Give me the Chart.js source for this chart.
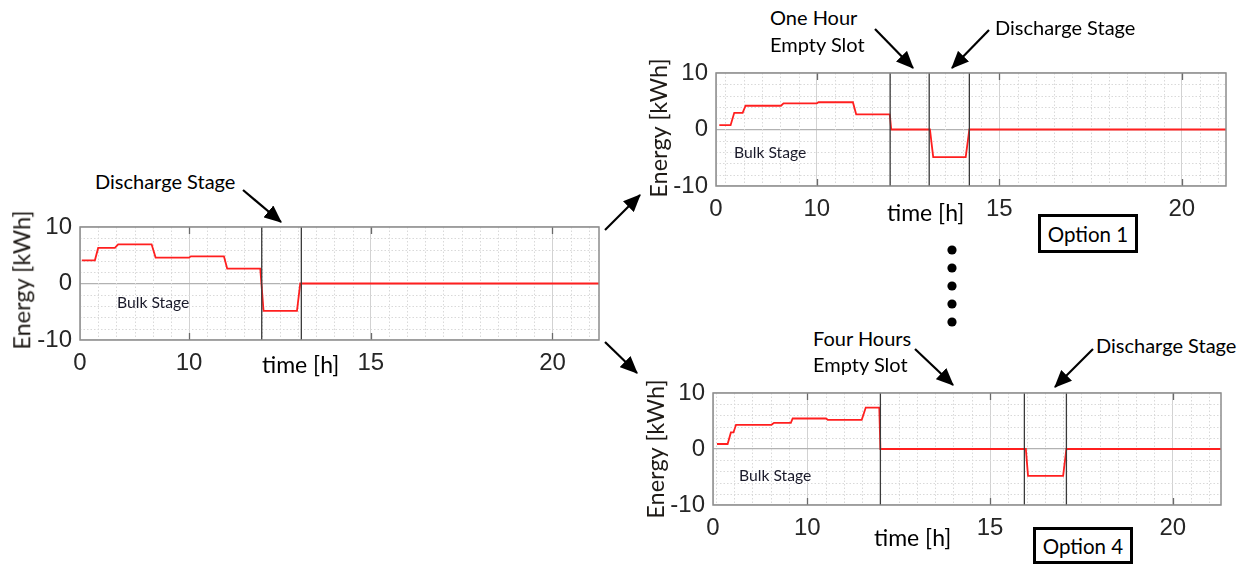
<!DOCTYPE html>
<html><head><meta charset="utf-8">
<script src="https://cdn.jsdelivr.net/npm/chart.js@4.4.1/dist/chart.umd.min.js"></script>
<style>
html,body{margin:0;padding:0;background:#fff;}
body{width:1253px;height:564px;position:relative;overflow:hidden;font-family:Lato,"Open Sans",sans-serif;}
canvas{position:absolute;}
.t{position:absolute;white-space:nowrap;color:#000;line-height:1;transform:translateY(-50%);z-index:5;}
.ylab{position:absolute;white-space:nowrap;font-size:23.5px;color:#1e1a16;line-height:1;transform:translate(-50%,-50%) rotate(-90deg);z-index:5;}
.box{position:absolute;border:3.5px solid #000;box-sizing:border-box;display:flex;align-items:center;justify-content:center;font-size:20.5px;color:#000;z-index:5;background:#fff;}
svg{position:absolute;left:0;top:0;z-index:6;}
</style></head><body>
<canvas id="c1"></canvas>
<canvas id="c2"></canvas>
<canvas id="c3"></canvas>

<div class="t" style="left:95px;top:181px;font-size:20px;">Discharge Stage</div>
<div class="t" style="left:770px;top:17px;font-size:20px;">One Hour</div>
<div class="t" style="left:770px;top:44px;font-size:20px;">Empty Slot</div>
<div class="t" style="left:995px;top:27px;font-size:20px;">Discharge Stage</div>
<div class="t" style="left:813px;top:338px;font-size:20px;">Four Hours</div>
<div class="t" style="left:813px;top:364px;font-size:20px;">Empty Slot</div>
<div class="t" style="left:1096px;top:345px;font-size:20px;">Discharge Stage</div>

<div class="t" style="left:117px;top:303px;font-size:15.7px;color:#1a1a2a;">Bulk Stage</div>
<div class="t" style="left:734px;top:153px;font-size:15.7px;color:#1a1a2a;">Bulk Stage</div>
<div class="t" style="left:739px;top:476px;font-size:15.7px;color:#1a1a2a;">Bulk Stage</div>

<div class="t" style="left:262px;top:364px;font-size:23px;">time [h]</div>
<div class="t" style="left:887px;top:212px;font-size:23px;">time [h]</div>
<div class="t" style="left:874px;top:537px;font-size:23px;">time [h]</div>

<div class="ylab" style="left:22px;top:280px;">Energy [kWh]</div>
<div class="ylab" style="left:659px;top:128px;">Energy [kWh]</div>
<div class="ylab" style="left:656px;top:449px;">Energy [kWh]</div>

<div class="box" style="left:1038px;top:214px;width:100px;height:39px;">Option 1</div>
<div class="box" style="left:1033px;top:527px;width:100px;height:37px;">Option 4</div>

<svg width="1253" height="564" viewBox="0 0 1253 564">
  <defs>
    <marker id="ah" markerWidth="8" markerHeight="7" refX="7.5" refY="3.5" orient="auto" markerUnits="strokeWidth">
      <path d="M0,0 L8,3.5 L0,7 Z" fill="#000"/>
    </marker>
  </defs>
  <g stroke="#000" stroke-width="2.2" marker-end="url(#ah)">
    <line x1="243" y1="190" x2="281" y2="222"/>
    <line x1="605" y1="230" x2="640" y2="195"/>
    <line x1="605" y1="342" x2="637" y2="373"/>
    <line x1="875" y1="29" x2="913" y2="68"/>
    <line x1="989" y1="30" x2="952" y2="68"/>
    <line x1="915" y1="349" x2="953" y2="385"/>
    <line x1="1093" y1="349" x2="1055" y2="387"/>
  </g>
  <g fill="#000">
    <circle cx="952" cy="250" r="4.6"/>
    <circle cx="952" cy="268" r="4.6"/>
    <circle cx="952" cy="286" r="4.6"/>
    <circle cx="952" cy="304" r="4.6"/>
    <circle cx="952" cy="322" r="4.6"/>
  </g>
</svg>

<script>
// ---------- data ----------
const xTickLabels = ['0', '10', '15', '20'];
const yTickValues = [-10, 0, 10];

// Chart 1 (base schedule)
const xTicks1 = [7, 10, 15, 20];
const xRange1 = [7, 21.28];
const time1   = [7.05, 7.41, 7.5, 7.96, 8.05, 8.97, 9.08, 10.0, 10.05, 10.96, 11.05, 11.96, 12.05, 12.97, 13.06, 21.28];
const energy1 = [4.1, 4.1, 6.3, 6.3, 6.93, 6.93, 4.58, 4.58, 4.8, 4.8, 2.64, 2.64, -4.83, -4.83, 0, 0];
const stages1 = [12.0, 13.09];

// Chart 2 (Option 1: one hour empty slot)
const xTicks2 = [7.24, 10, 15, 20];
const xRange2 = [7.24, 21.21];
const time2   = [7.33, 7.64, 7.74, 7.97, 8.05, 9.02, 9.09, 10.0, 10.05, 10.99, 11.08, 12.0, 12.04, 13.1, 13.19, 14.08, 14.18, 21.21];
const energy2 = [0.77, 0.77, 2.96, 2.96, 4.2, 4.2, 4.64, 4.64, 4.82, 4.82, 2.68, 2.68, 0, 0, -4.89, -4.89, 0, 0];
const stages2 = [12.01, 13.08, 14.18];

// Chart 3 (Option 4: four hours empty slot)
const xTicks3 = [7.42, 10, 15, 20];
const xRange3 = [7.42, 21.32];
const time3   = [7.53, 7.82, 7.91, 7.98, 8.05, 9.02, 9.09, 9.55, 9.6, 10.51, 10.56, 11.49, 11.6, 11.97, 12.0, 15.98, 16.04, 17.0, 17.09, 21.32];
const energy3 = [0.89, 0.89, 2.96, 2.96, 4.32, 4.32, 4.68, 4.68, 5.45, 5.45, 5.21, 5.21, 7.4, 7.4, 0, 0, -4.8, -4.8, 0, 0];
const stages3 = [12.0, 15.94, 17.09];

// ---------- decoration plugin: minor grid, frame, inward ticks ----------
const matlabGrid = {
  id: 'matlabGrid',
  beforeDatasetsDraw(chart) {
    const {ctx, chartArea: a, scales: {x, y}} = chart;
    ctx.save();
    ctx.strokeStyle = '#d9d9d9';
    ctx.lineWidth = 1;
    ctx.setLineDash([1.5, 2]);
    const xs = 0.5;
    for (let k = Math.ceil(x.min / xs); k * xs < x.max - 1e-6; k++) {
      const v = k * xs;
      if (v <= x.min + 0.05 || [10, 15, 20].includes(v)) continue;
      const px = Math.round(x.getPixelForValue(v)) + 0.5;
      ctx.beginPath(); ctx.moveTo(px, a.top); ctx.lineTo(px, a.bottom); ctx.stroke();
    }
    for (let v = -8; v <= 8; v += 2) {
      if (v === 0) continue;
      const py = Math.round(y.getPixelForValue(v)) + 0.5;
      ctx.beginPath(); ctx.moveTo(a.left, py); ctx.lineTo(a.right, py); ctx.stroke();
    }
    ctx.restore();
  },
  afterDatasetsDraw(chart) {
    const {ctx, chartArea: a, scales: {x}} = chart;
    ctx.save();
    ctx.strokeStyle = '#6a6a6a';
    ctx.lineWidth = 1.3;
    [10, 15, 20].forEach(v => {
      const px = Math.round(x.getPixelForValue(v)) + 0.5;
      ctx.beginPath(); ctx.moveTo(px, a.top); ctx.lineTo(px, a.top + 7); ctx.stroke();
      ctx.beginPath(); ctx.moveTo(px, a.bottom); ctx.lineTo(px, a.bottom - 7); ctx.stroke();
    });
    ctx.strokeStyle = '#8c8c8c';
    ctx.lineWidth = 1.5;
    ctx.strokeRect(a.left, a.top, a.right - a.left, a.bottom - a.top);
    ctx.restore();
  }
};

function makeChart(id, box, xTicks, xRange, time, energy, stages) {
  const cv = document.getElementById(id);
  cv.style.left = box.cx + 'px';
  cv.style.top = box.cy + 'px';
  cv.width = box.w; cv.height = box.h;
  cv.style.width = box.w + 'px'; cv.style.height = box.h + 'px';

  const datasets = stages.map(s => ({
    data: [{x: s, y: -10}, {x: s, y: 10}],
    borderColor: '#3a3a3a', borderWidth: 1.3, pointRadius: 0, showLine: true, fill: false
  }));
  datasets.push({
    data: time.map((t, i) => ({x: t, y: energy[i]})),
    borderColor: '#ff1f1f', borderWidth: 1.8, pointRadius: 0, showLine: true, fill: false, tension: 0
  });

  return new Chart(cv, {
    type: 'scatter',
    data: {datasets},
    options: {
      responsive: false, animation: false,
      layout: {padding: {top: box.pt, right: box.pr, left: 0, bottom: 0}},
      plugins: {legend: {display: false}, tooltip: {enabled: false}},
      scales: {
        x: {
          type: 'linear', min: xRange[0], max: xRange[1],
          afterBuildTicks: s => { s.ticks = xTicks.map(v => ({value: v})); },
          afterFit: s => { s.height = box.xh; },
          ticks: {
            callback: (v, i) => xTickLabels[i],
            autoSkip: false, maxRotation: 0, padding: 9,
            color: '#262626', font: {family: '"Liberation Sans", Arial, sans-serif', size: 24}
          },
          grid: {color: '#d2d2d2', lineWidth: 1, drawTicks: false},
          border: {display: false}
        },
        y: {
          min: -10, max: 10,
          afterBuildTicks: s => { s.ticks = yTickValues.map(v => ({value: v})); },
          afterFit: s => { s.width = box.yw; },
          ticks: {
            padding: 8, color: '#262626',
            font: {family: '"Liberation Sans", Arial, sans-serif', size: 24}
          },
          grid: {color: c => (c.tick && c.tick.value === 0) ? '#b2b2b2' : '#d2d2d2', lineWidth: 1.2, drawTicks: false},
          border: {display: false}
        }
      }
    },
    plugins: [matlabGrid]
  });
}

makeChart('c1', {cx: 0, cy: 200, w: 610, h: 190, yw: 80, pt: 27, pr: 11, xh: 50}, xTicks1, xRange1, time1, energy1, stages1);
makeChart('c2', {cx: 630, cy: 50, w: 610, h: 190, yw: 86, pt: 23, pr: 14, xh: 54}, xTicks2, xRange2, time2, energy2, stages2);
makeChart('c3', {cx: 630, cy: 370, w: 610, h: 190, yw: 83, pt: 23, pr: 19, xh: 55}, xTicks3, xRange3, time3, energy3, stages3);
</script>
</body></html>
